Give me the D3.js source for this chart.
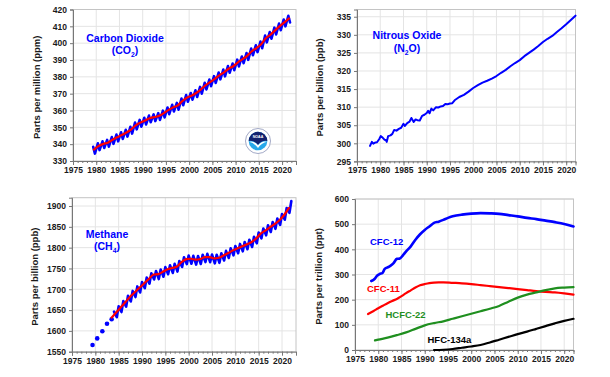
<!DOCTYPE html>
<html>
<head>
<meta charset="utf-8">
<script src="https://cdn.jsdelivr.net/npm/d3@7"></script>
<style>
body { margin: 0; background: #fff; }
svg { display: block; font-family: Arial, "Liberation Sans", sans-serif; }
</style>
</head>
<body>
<svg width="610" height="377"></svg>
<script>
// ---- data ----
const yearTicks = [1975, 1980, 1985, 1990, 1995, 2000, 2005, 2010, 2015, 2020];

// CO2 (ppm): one seasonal high and low per year, plus the trend
const co2Years = d3.range(1979, 2022);
const co2Peak = [338.4, 340.5, 341.7, 342.5, 344.2, 345.7, 347.1, 348.5, 350.3, 352.8, 354.4, 355.7, 357.0, 357.7, 358.4,
  359.9, 361.8, 363.4, 364.5, 367.1, 369.2, 370.4, 372.0, 374.0, 376.5, 378.4, 380.4, 382.5, 384.3, 386.4, 387.9,
  390.2, 392.1, 394.1, 396.8, 398.7, 401.0, 404.5, 406.6, 409.2, 411.7, 414.0, 416.3];
const co2Trough = [334.4, 336.5, 337.7, 338.5, 340.2, 341.7, 343.1, 344.5, 346.3, 348.8, 350.4, 351.7, 353.0, 353.7, 354.4,
  355.9, 357.8, 359.4, 360.5, 363.1, 365.2, 366.4, 368.0, 370.0, 372.5, 374.4, 376.4, 378.5, 380.3, 382.4, 383.9,
  386.2, 388.1, 390.1, 392.8, 394.7, 397.0, 400.5, 402.6, 405.2, 407.7, 410.0, 412.3];
const co2Trend = [336.8, 338.9, 340.1, 340.9, 342.6, 344.1, 345.5, 346.9, 348.7, 351.2, 352.8, 354.1, 355.4, 356.1, 356.8,
  358.3, 360.2, 361.8, 362.9, 365.5, 367.6, 368.8, 370.4, 372.4, 374.9, 376.8, 378.8, 380.9, 382.7, 384.8, 386.3,
  388.6, 390.5, 392.5, 395.2, 397.1, 399.4, 402.9, 405.0, 407.6, 410.1, 412.4, 414.7];

// N2O (ppb)
const n2oYears = [1977.8, 1978.2, 1978.5, 1978.9, 1979.3, 1979.8, 1980.1, 1980.5, 1980.9, 1981.2, 1981.4, 1981.7,
  1982.2, 1982.6, 1983.0, 1983.5, 1984.0, 1984.5, 1985.0, 1985.3, 1985.8, 1986.3, 1986.7, 1987.2, 1987.6, 1988.0,
  1988.5, 1989.0, 1989.5, 1990.0, 1990.3, 1990.6, 1991.0, 1991.4, 1992.0, 1992.5, 1993.0, 1993.5, 1994.0, 1994.5,
  1995.0, 1995.5, 1996.0, 1997, 1998, 1999, 2000, 2001, 2002, 2003, 2004, 2005, 2006, 2007, 2008, 2009, 2010,
  2011, 2012, 2013, 2014, 2015, 2016, 2017, 2018, 2019, 2020, 2021, 2022.0];
const n2oValues = [299.3, 300.4, 299.9, 300.2, 300.3, 301.2, 302.0, 301.6, 301.0, 300.9, 300.4, 302.0,
  302.2, 302.6, 303.7, 303.5, 304.0, 304.3, 305.4, 304.8, 305.6, 306.0, 307.0, 305.9, 306.6, 306.4,
  306.3, 307.6, 307.9, 308.4, 309.0, 308.3, 309.6, 309.1, 310.0, 309.9, 310.2, 310.3, 310.9, 310.8,
  311.0, 311.1, 311.9, 312.8, 313.4, 314.3, 315.3, 316.1, 316.8, 317.3, 317.9, 318.6, 319.5, 320.3, 321.3, 322.2, 323.0,
  324.1, 325.0, 325.9, 326.9, 328.0, 328.9, 329.7, 330.8, 331.8, 332.9, 334.1, 335.3];

// CH4 (ppb): early flask points, then seasonal highs/lows and trend
const ch4EarlyYears = [1979.4, 1980.4, 1981.5, 1982.5, 1983.5];
const ch4EarlyValues = [1566, 1582, 1599, 1617, 1628];
const ch4PeakYears = d3.range(1984, 2023);
const ch4Peak = [1646.4, 1659, 1671.7, 1684.4, 1696, 1706.8, 1717.3, 1727.9, 1738.5, 1744, 1747.3, 1753.2, 1757.8,
  1761, 1768, 1777, 1780.9, 1780.3, 1780, 1783, 1785.2, 1783.6, 1782.9, 1786.5, 1792.2, 1798.3, 1804, 1808.9,
  1813.6, 1818.8, 1826, 1836.4, 1846, 1853.7, 1861.5, 1870, 1880.9, 1895.4, 1912];
const ch4TroughYears = d3.range(1984, 2022);
const ch4Trough = [1632.8, 1645.3, 1658.1, 1670.7, 1681.3, 1692.2, 1702.4, 1713.4, 1723.5, 1724.5, 1730.1, 1736.2,
  1739.3, 1742.6, 1753.5, 1760.4, 1761.3, 1759.2, 1760.7, 1765.3, 1765.0, 1762.2, 1763.6, 1769.3, 1775.1, 1781.4,
  1786.6, 1791.1, 1796.1, 1801.5, 1810.5, 1822.3, 1829.7, 1837.7, 1845.3, 1854.6, 1867.1, 1883.7];
const ch4TrendYears = d3.range(1983, 2022);
const ch4Trend = [1632, 1644.8, 1657.3, 1670.1, 1682.7, 1693.3, 1704.2, 1714.4, 1725.4, 1735.5, 1736.5, 1742.1,
  1748.2, 1751.3, 1754.6, 1765.5, 1772.4, 1773.3, 1771.2, 1772.7, 1777.3, 1777.0, 1774.2, 1775.6, 1781.3, 1787.1,
  1793.4, 1798.6, 1803.1, 1808.1, 1813.5, 1822.5, 1834.3, 1841.7, 1849.7, 1857.3, 1866.6, 1879.1, 1895.7];

// halocarbons (ppt)
const cfc12Years = [1978.5, 1979.2, 1979.8, 1980.3, 1980.9, 1981.4, 1982, 1982.6, 1983.3, 1984, 1984.6, 1985.3,
  1986, 1987, 1988, 1989, 1990, 1991, 1992, 1993, 1994, 1995, 1996, 1998, 2000, 2002, 2004, 2006, 2008, 2010,
  2012, 2014, 2016, 2018, 2020, 2022];
const cfc12Values = [274, 282, 296, 302, 306, 322, 328, 334, 345, 362, 363, 376,
  392, 412, 438, 460, 477, 491, 505, 510, 517, 525, 531, 538, 542, 544, 543, 541, 536, 531,
  525, 520, 514, 508, 501, 491];
const cfc11Years = [1977.8, 1979, 1980, 1981, 1982, 1983, 1984, 1985, 1986, 1987, 1988, 1989, 1990, 1991, 1992,
  1993, 1994, 1996, 1998, 2000, 2002, 2004, 2006, 2008, 2010, 2012, 2014, 2016, 2018, 2020, 2022];
const cfc11Values = [143, 155, 166, 176, 186, 195, 203, 214, 226, 237, 248, 257, 262, 266, 268,
  269, 269, 267, 265, 262, 258, 254, 250, 246, 242, 238, 234, 231, 229, 225, 220];
const hcfc22Years = [1979.3, 1980, 1982, 1984, 1986, 1988, 1990, 1992, 1994, 1996, 1998, 2000, 2002, 2004, 2006,
  2008, 2010, 2012, 2014, 2016, 2018, 2020, 2022];
const hcfc22Values = [38, 41, 49, 59, 70, 84, 98, 107, 114, 124, 134, 144, 154, 164, 175, 192, 208, 220, 229, 238,
  245, 248, 250];
const hfc134aYears = [1992, 1994, 1996, 1998, 2000, 2002, 2004, 2006, 2008, 2010, 2012, 2014, 2016, 2018, 2020, 2022];
const hfc134aValues = [0, 1, 4, 9, 14, 20, 30, 41, 52, 63, 73, 84, 95, 106, 116, 124];

const BLUE = "#0000ff", RED = "#ff0000", GREEN = "#1f8f1f", BLACK = "#000";

const svg = d3.select("svg");

function panel(o) {
  const x = d3.scaleLinear().domain(o.xDomain).range([o.left, o.right]);
  const y = d3.scaleLinear().domain(o.yDomain).range([o.bottom, o.top]);
  const g = svg.append("g");

  // grid
  g.append("g").selectAll("line").data(yearTicks.slice(1)).join("line")
    .attr("x1", d => x(d)).attr("x2", d => x(d))
    .attr("y1", o.top).attr("y2", o.bottom)
    .attr("stroke", "#e4e4e4").attr("stroke-width", 1);
  g.append("g").selectAll("line").data(o.yTicks.slice(1)).join("line")
    .attr("x1", o.left).attr("x2", o.right)
    .attr("y1", d => y(d)).attr("y2", d => y(d))
    .attr("stroke", "#e4e4e4").attr("stroke-width", 1);
  g.append("rect")
    .attr("x", o.left).attr("y", o.top)
    .attr("width", o.right - o.left).attr("height", o.bottom - o.top)
    .attr("fill", "none").attr("stroke", "#c4c4c4");

  // axes
  const xMinor = d3.axisBottom(x).tickValues(d3.range(1975, o.xDomain[1] + 1)).tickSize(2).tickFormat("");
  g.append("g").attr("transform", `translate(0,${o.bottom})`).call(xMinor)
    .call(s => s.selectAll("line").attr("stroke", "#777"))
    .call(s => s.select(".domain").remove());
  const xAxis = d3.axisBottom(x).tickValues(yearTicks).tickSize(4).tickPadding(2).tickFormat(d3.format("d"));
  g.append("g").attr("transform", `translate(0,${o.bottom})`).call(xAxis)
    .call(s => s.select(".domain").attr("stroke", "#777"))
    .call(s => s.selectAll("line").attr("stroke", "#777"))
    .call(s => s.selectAll("text").attr("font-size", 8.5).attr("font-weight", "bold")
      .attr("fill", "#1a1a1a").attr("font-family", null));
  const yAxis = d3.axisLeft(y).tickValues(o.yTicks).tickSize(3).tickPadding(3).tickFormat(d3.format("d"));
  g.append("g").attr("transform", `translate(${o.left},0)`).call(yAxis)
    .call(s => s.select(".domain").attr("stroke", "#777"))
    .call(s => s.selectAll("line").attr("stroke", "#777"))
    .call(s => s.selectAll("text").attr("font-size", 8.5).attr("font-weight", "bold")
      .attr("fill", "#1a1a1a").attr("font-family", null));

  g.append("text")
    .attr("transform", `translate(${o.titleX},${(o.top + o.bottom) / 2 + 2}) rotate(-90)`)
    .attr("text-anchor", "middle")
    .attr("font-size", 9.5).attr("font-weight", "bold").attr("fill", "#1a1a1a")
    .text(o.yLabel);

  const plot = g.append("g");
  return { g: plot, x, y };
}

function drawLine(p, xs, ys, color, width, curve) {
  const line = d3.line().x(d => p.x(d[0])).y(d => p.y(d[1]));
  if (curve) line.curve(curve);
  p.g.append("path")
    .datum(d3.zip(xs, ys))
    .attr("d", line)
    .attr("fill", "none")
    .attr("stroke", color)
    .attr("stroke-width", width)
    .attr("stroke-linejoin", "round")
    .attr("stroke-linecap", "round");
}

// zigzag from seasonal highs and lows
function seasonal(highYears, highs, highOffset, lowYears, lows, lowOffset) {
  const pts = [];
  highYears.forEach((yr, i) => pts.push([yr + highOffset, highs[i]]));
  lowYears.forEach((yr, i) => pts.push([yr + lowOffset, lows[i]]));
  pts.sort((a, b) => a[0] - b[0]);
  return pts;
}

function chemLabel(x, y, parts, size, anchor) {
  const t = svg.append("text")
    .attr("x", x).attr("y", y)
    .attr("text-anchor", anchor || "middle")
    .attr("font-size", size).attr("font-weight", "bold").attr("fill", BLUE);
  parts.forEach(pt => {
    const s = t.append("tspan").text(pt[0]);
    if (pt[1]) s.attr("font-size", size * 0.65).attr("dy", 3);
    else if (pt[2]) s.attr("dy", -3);
  });
  return t;
}

// ---------- CO2 ----------
const p1 = panel({
  left: 73, right: 296, top: 9.5, bottom: 161,
  xDomain: [1975, 2023], yDomain: [330, 420],
  yTicks: d3.range(330, 421, 10), yLabel: "Parts per million (ppm)", titleX: 40
});
const co2Pts = seasonal(co2Years, co2Peak, 0.35, co2Years, co2Trough, 0.72);
drawLine(p1, co2Pts.map(d => d[0]), co2Pts.map(d => d[1]), BLUE, 2.6);
drawLine(p1, co2Years.map(d => d + 0.5), co2Trend, RED, 2.2, d3.curveMonotoneX);
chemLabel(125, 41.5, [["Carbon Dioxide"]], 10.5);
chemLabel(125, 54, [["(CO"], ["2", true], [")", false, true]], 10.5);

// NOAA emblem
const logo = svg.append("g").attr("transform", "translate(258,141)");
logo.append("circle").attr("r", 12.5).attr("fill", "#fff").attr("stroke", "#8a93b8").attr("stroke-width", 0.8);
logo.append("circle").attr("r", 9.3).attr("fill", "#27a8ea");
logo.append("path").attr("d", "M-9.3,0 A9.3,9.3 0 0,1 9.3,0 Q4,-1 0,4 Q-4,-1 -9.3,0Z").attr("fill", "#12216e");
logo.append("path").attr("d", "M-9,0.8 Q-4,-0.8 0,4.2 Q4,-0.8 9,0.8 Q4,1.8 0,7 Q-4,1.8 -9,0.8Z").attr("fill", "#fff");
logo.append("text").attr("y", -3).attr("text-anchor", "middle").attr("font-size", 3.6)
  .attr("font-weight", "bold").attr("fill", "#fff").text("NOAA");

// ---------- N2O ----------
const p2 = panel({
  left: 357, right: 575.5, top: 9.5, bottom: 161.4,
  xDomain: [1975, 2022], yDomain: [295, 337],
  yTicks: d3.range(295, 336, 5), yLabel: "Parts per billion (ppb)", titleX: 323
});
drawLine(p2, n2oYears, n2oValues, BLUE, 2);
chemLabel(407, 39, [["Nitrous Oxide"]], 10.5);
chemLabel(407, 52, [["(N"], ["2", true], ["O)", false, true]], 10.5);

// ---------- CH4 ----------
const p3 = panel({
  left: 72, right: 296, top: 197.7, bottom: 351.7,
  xDomain: [1975, 2023], yDomain: [1550, 1920],
  yTicks: d3.range(1550, 1901, 50), yLabel: "Parts per billion (ppb)", titleX: 38
});
p3.g.selectAll("circle").data(d3.zip(ch4EarlyYears, ch4EarlyValues)).join("circle")
  .attr("cx", d => p3.x(d[0])).attr("cy", d => p3.y(d[1]))
  .attr("r", 2.3).attr("fill", BLUE);
const ch4Pts = seasonal(ch4PeakYears, ch4Peak, 0.0, ch4TroughYears, ch4Trough, 0.6);
drawLine(p3, ch4Pts.map(d => d[0]), ch4Pts.map(d => d[1]), BLUE, 2.6);
drawLine(p3, ch4TrendYears.map(d => d + 0.5), ch4Trend, RED, 2.2, d3.curveMonotoneX);
chemLabel(107, 238, [["Methane"]], 10.5);
chemLabel(107, 250, [["(CH"], ["4", true], [")", false, true]], 10.5);

// ---------- halocarbons ----------
const p4 = panel({
  left: 355, right: 573.5, top: 199, bottom: 350,
  xDomain: [1975, 2022], yDomain: [0, 600],
  yTicks: d3.range(0, 601, 100), yLabel: "Parts per trillion (ppt)", titleX: 322
});
drawLine(p4, cfc12Years, cfc12Values, BLUE, 2.6, d3.curveMonotoneX);
drawLine(p4, cfc11Years, cfc11Values, RED, 2.2, d3.curveMonotoneX);
drawLine(p4, hcfc22Years, hcfc22Values, GREEN, 2.2, d3.curveMonotoneX);
drawLine(p4, hfc134aYears, hfc134aValues, BLACK, 2.2, d3.curveMonotoneX);

const haloLabels = [
  { t: "CFC-12", x: 370, y: 245, c: BLUE },
  { t: "CFC-11", x: 367, y: 291.5, c: RED },
  { t: "HCFC-22", x: 385.5, y: 317.5, c: GREEN },
  { t: "HFC-134a", x: 427.5, y: 342.5, c: BLACK }
];
svg.append("g").selectAll("text").data(haloLabels).join("text")
  .attr("x", d => d.x).attr("y", d => d.y)
  .attr("font-size", 9.5).attr("font-weight", "bold")
  .attr("fill", d => d.c).text(d => d.t);
</script>
</body>
</html>
